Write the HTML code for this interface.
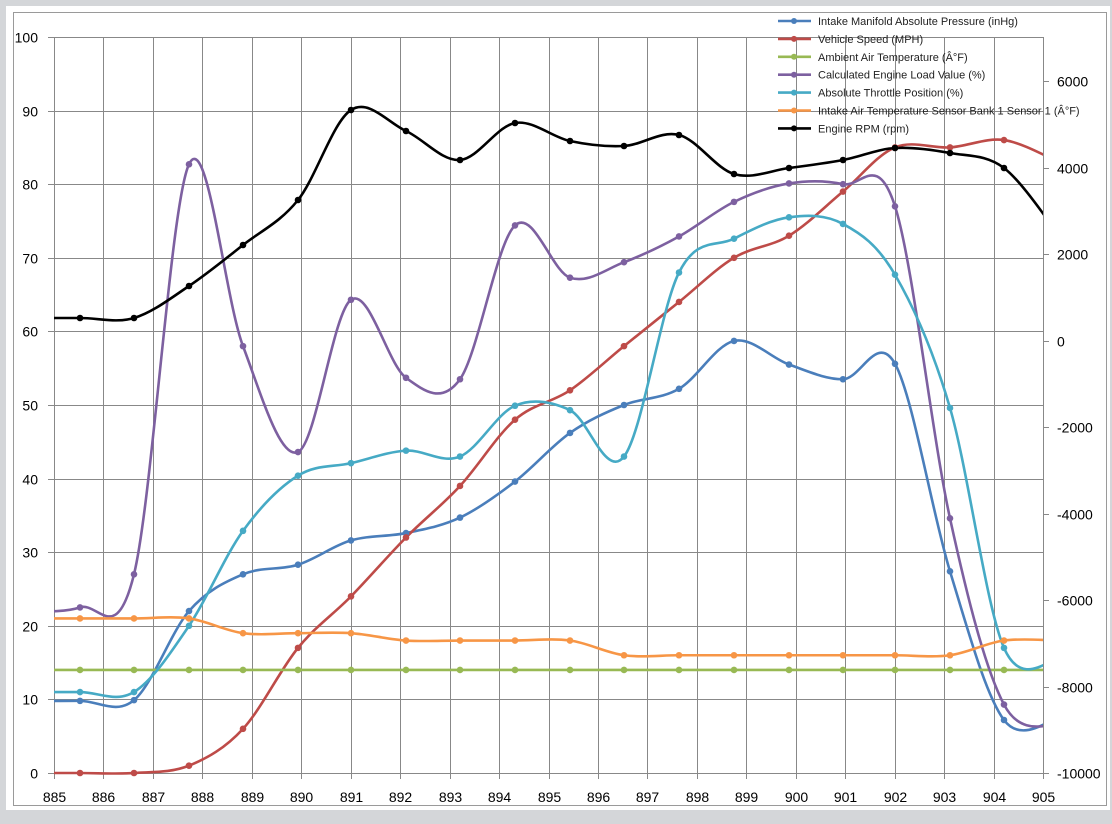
<!DOCTYPE html>
<html><head><meta charset="utf-8"><style>
body{margin:0;background:#d4d6d9;width:1112px;height:824px;overflow:hidden}
svg{position:absolute;left:0;top:0}
text{font-family:"Liberation Sans",sans-serif}
</style></head><body>
<svg id="s" width="1112" height="824" xmlns="http://www.w3.org/2000/svg">
<rect x="6" y="6" width="1104" height="804" fill="#fff"/>
<rect x="13.5" y="12.5" width="1093" height="793" fill="none" stroke="#9a9a9a"/>
<g id="grid" stroke="#888" stroke-width="1"></g>
<g id="labels" font-size="14" fill="#000"></g>
<defs><clipPath id="c"><rect x="54" y="20" width="989" height="760"/></clipPath></defs>
<g id="series" clip-path="url(#c)" fill="none" stroke-width="2.6"></g>
<g id="marks"></g>
<g id="legend" font-size="11" fill="#222"></g>
</svg>
<script>
const NS="http://www.w3.org/2000/svg";
function el(p,t,a,txt){const e=document.createElementNS(NS,t);for(const k in a)e.setAttribute(k,a[k]);if(txt!==undefined)e.textContent=txt;p.appendChild(e);return e;}
const g=document.getElementById('grid'),L=document.getElementById('labels');
const X0=54,X1=1043,Y0=773,YT=37;
const dx=(X1-X0)/20,dy=(Y0-YT)/10;
for(let i=0;i<=20;i++){const x=Math.round(X0+i*dx)+.5;el(g,'line',{x1:x,y1:YT,x2:x,y2:779});el(L,'text',{x:x,y:802,'text-anchor':'middle'},String(885+i));}
for(let j=0;j<=10;j++){const y=Math.round(Y0-j*dy)+.5;el(g,'line',{x1:48,y1:y,x2:X0,y2:y});el(L,'text',{x:38,y:y+5,'text-anchor':'end'},String(j*10));if(j>0)el(g,'line',{x1:X0,y1:y,x2:X1,y2:y});}
el(g,'line',{x1:X0,y1:Y0+.5,x2:X1,y2:Y0+.5});
const rpx=v=>773-(v+10000)*(735/17000);
for(let v=-10000;v<=6000;v+=2000){const y=Math.round(rpx(v))+.5;el(g,'line',{x1:X1,y1:y,x2:1049,y2:y});el(L,'text',{x:1057,y:y+5},String(v));}
const px=[25,80,134,189,243,298,351,406,460,515,570,624,679,734,789,843,895,950,1004,1059];
const Y=v=>773-v*7.36;
const S=[
["#4a7ebb",[9.8,9.8,9.9,22,27,28.3,31.6,32.6,34.7,39.6,46.2,50,52.2,58.7,55.5,53.5,55.6,27.4,7.2,7.5].map(Y),"Intake Manifold Absolute Pressure (inHg)"],
["#be4b48",[0,0,0,1,6,17,24,32,39,48,52,58,64,70,73,79,85,85,86,83].map(Y),"Vehicle Speed (MPH)"],
["#98b954",Array(20).fill(Y(14)),"Ambient Air Temperature (Â°F)"],
["#7d60a0",[22,22.5,27,82.7,58,43.6,64.3,53.7,53.5,74.4,67.3,69.4,72.9,77.6,80.1,80,77,34.6,9.3,6.5].map(Y),"Calculated Engine Load Value (%)"],
["#46aac5",[11,11,11,20,32.9,40.4,42.1,43.8,43,49.9,49.3,43,68,72.6,75.5,74.6,67.7,49.6,17,15.5].map(Y),"Absolute Throttle Position (%)"],
["#f79646",[21,21,21,21,19,19,19,18,18,18,18,16,16,16,16,16,16,16,18,18].map(Y),"Intake Air Temperature Sensor Bank 1 Sensor 1 (Â°F)"],
["#000",[318,318,318,286,245,200,110,131,160,123,141,146,135,174,168,160,148,153,168,235],"Engine RPM (rpm)"]];
const SG=document.getElementById('series'),M=document.getElementById('marks'),LG=document.getElementById('legend');
S.forEach((s,k)=>{const ys=s[1];let d=`M${px[0]},${ys[0]}`;
for(let i=0;i<px.length-1;i++){const p0=i?i-1:0,p3=Math.min(i+2,px.length-1),t=0.5/3*2*0.5*2/2;
const c1x=px[i]+(px[i+1]-px[p0])/6,c1y=ys[i]+(ys[i+1]-ys[p0])/6,c2x=px[i+1]-(px[p3]-px[i])/6,c2y=ys[i+1]-(ys[p3]-ys[i])/6;
d+=` C${c1x},${c1y} ${c2x},${c2y} ${px[i+1]},${ys[i+1]}`;}
el(SG,'path',{d:d,stroke:s[0]});
for(let i=1;i<px.length-1;i++)el(M,'circle',{cx:px[i],cy:ys[i],r:3.3,fill:s[0]});
const ly=21+k*17.9;el(LG,'line',{x1:778,y1:ly,x2:811,y2:ly,stroke:s[0],'stroke-width':2.6});el(LG,'circle',{cx:794,cy:ly,r:3,fill:s[0]});el(LG,'text',{x:818,y:ly+4},s[2]);});
</script>
</body></html>
